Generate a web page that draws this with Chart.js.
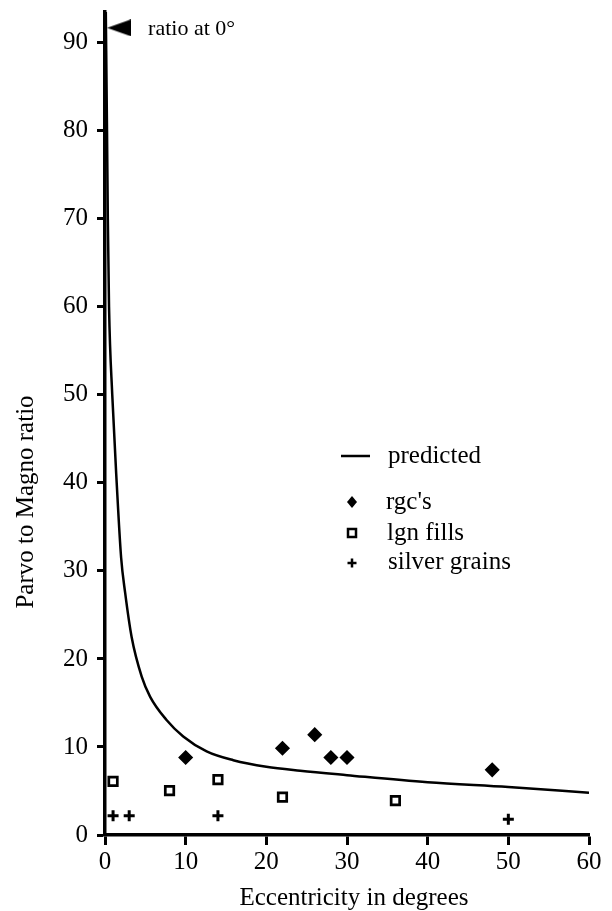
<!DOCTYPE html>
<html>
<head>
<meta charset="utf-8">
<script src="https://cdn.jsdelivr.net/npm/chart.js@4/dist/chart.umd.min.js"></script>
<style>
  html, body { margin: 0; padding: 0; background: #fff; }
  canvas { display: block; }
</style>
</head>
<body>
<canvas id="chart" width="612" height="911"></canvas>
<script>
// DATA
const predX = [0.1, 0.25, 0.35, 0.5, 0.9, 1.45, 2.0, 2.5, 3.3, 4.55, 5.6, 7.6, 9.7, 12.6, 15.9, 20, 24.2, 30, 40, 50, 60];
const predY = [93.5, 80, 70, 60, 50, 40, 31.5, 27.5, 22.5, 18.0, 15.7, 13.1, 11.2, 9.5, 8.5, 7.75, 7.3, 6.8, 6.0, 5.45, 4.8];
const rgcX = [10, 22, 26, 28, 30, 48];
const rgcY = [8.8, 9.85, 11.4, 8.8, 8.8, 7.4];
const lgnX = [1, 8, 14, 22, 36];
const lgnY = [6.1, 5.05, 6.3, 4.3, 3.9];
const silverX = [1, 3, 14, 50];
const silverY = [2.2, 2.2, 2.2, 1.8];
const ratioX = [1.75];
const ratioY = [91.7];
const legendLabels = ['predicted', "rgc's", 'lgn fills', 'silver grains'];
const xTitle = 'Eccentricity in degrees';
const yTitle = 'Parvo to Magno ratio';
const ratioLabel = 'ratio at 0\u00B0';

const SERIF = '"Liberation Serif", "Times New Roman", serif';
Chart.defaults.color = '#000';
Chart.defaults.font.family = SERIF;

const toPts = (xs, ys) => xs.map((x, i) => ({ x: x, y: ys[i] }));

// flag marker pointing left, tip on the axis
const flag = document.createElement('canvas');
flag.width = 24; flag.height = 17;
(function () {
  const c = flag.getContext('2d');
  c.fillStyle = '#000';
  c.beginPath();
  c.moveTo(0, 8.5);
  c.lineTo(24, 0);
  c.lineTo(24, 17);
  c.closePath();
  c.fill();
})();

// texts + legend
const extras = {
  id: 'extras',
  afterDraw(chart) {
    const ctx = chart.ctx;
    ctx.save();
    ctx.fillStyle = '#000';
    ctx.strokeStyle = '#000';

    // axis titles
    ctx.font = '25px ' + SERIF;
    ctx.textAlign = 'center';
    ctx.textBaseline = 'alphabetic';
    ctx.fillText(xTitle, 354, 905);
    ctx.save();
    ctx.translate(33, 502);
    ctx.rotate(-Math.PI / 2);
    ctx.fillText(yTitle, 0, 0);
    ctx.restore();

    // ratio annotation
    const px = chart.scales.x.getPixelForValue(ratioX[0]);
    const py = chart.scales.y.getPixelForValue(ratioY[0]);
    ctx.font = '22px ' + SERIF;
    ctx.textAlign = 'left';
    ctx.textBaseline = 'middle';
    ctx.fillText(ratioLabel, px + 29, py + 1);

    // legend
    ctx.font = '25px ' + SERIF;
    const rows = [456, 502, 533, 562];
    const tx = [388, 386, 387, 388];
    const mx = 352;
    ctx.lineWidth = 2.5;
    ctx.beginPath();
    ctx.moveTo(341, rows[0]); ctx.lineTo(370, rows[0]);
    ctx.stroke();
    // diamond
    ctx.beginPath();
    ctx.moveTo(mx, rows[1] - 6); ctx.lineTo(mx + 5, rows[1]);
    ctx.lineTo(mx, rows[1] + 6); ctx.lineTo(mx - 5, rows[1]);
    ctx.closePath(); ctx.fill();
    // square
    ctx.strokeRect(mx - 4, rows[2] - 4, 8, 8);
    // plus
    ctx.beginPath();
    ctx.moveTo(mx - 4.5, rows[3] + 1); ctx.lineTo(mx + 4.5, rows[3] + 1);
    ctx.moveTo(mx, rows[3] - 3.5); ctx.lineTo(mx, rows[3] + 5.5);
    ctx.stroke();
    legendLabels.forEach((t, i) => ctx.fillText(t, tx[i], rows[i]));

    ctx.restore();
  }
};

new Chart(document.getElementById('chart'), {
  type: 'scatter',
  data: {
    datasets: [
      {
        label: legendLabels[0],
        data: toPts(predX, predY),
        showLine: true,
        borderColor: '#000',
        borderWidth: 2.5,
        pointRadius: 0,
        cubicInterpolationMode: 'monotone'
      },
      {
        label: legendLabels[1],
        data: toPts(rgcX, rgcY),
        pointStyle: 'rectRot',
        pointRadius: 6.5,
        backgroundColor: '#000',
        borderColor: '#000',
        borderWidth: 1.5
      },
      {
        label: legendLabels[2],
        data: toPts(lgnX, lgnY),
        pointStyle: 'rect',
        pointRadius: 6,
        backgroundColor: '#fff',
        borderColor: '#000',
        borderWidth: 2.7
      },
      {
        label: legendLabels[3],
        data: toPts(silverX, silverY),
        pointStyle: 'cross',
        pointRadius: 5.5,
        borderColor: '#000',
        borderWidth: 3
      },
      {
        label: 'ratio',
        data: toPts(ratioX, ratioY),
        pointStyle: flag,
        pointRadius: 10
      }
    ]
  },
  options: {
    responsive: false,
    animation: false,
    layout: { padding: { top: 12, right: 23, left: 0, bottom: 0 } },
    plugins: { legend: { display: false }, tooltip: { enabled: false } },
    scales: {
      x: {
        type: 'linear',
        min: 0, max: 60,
        afterFit: s => { s.height = 76; },
        ticks: { stepSize: 10, includeBounds: false, padding: 2, font: { size: 25 }, color: '#000' },
        grid: { display: true, drawOnChartArea: false, drawTicks: true, tickLength: 10, tickWidth: 3, tickColor: '#000' },
        border: { display: true, color: '#000', width: 3.5 }
      },
      y: {
        type: 'linear',
        min: 0, max: 93.5,
        afterFit: s => { s.width = 105; s.paddingTop = 0; s.paddingBottom = 0; },
        ticks: { stepSize: 10, includeBounds: false, padding: 9, font: { size: 25 }, color: '#000' },
        grid: { display: true, drawOnChartArea: false, drawTicks: true, tickLength: 8, tickWidth: 3, tickColor: '#000' },
        border: { display: true, color: '#000', width: 3.5 }
      }
    }
  },
  plugins: [extras]
});
</script>
</body>
</html>
